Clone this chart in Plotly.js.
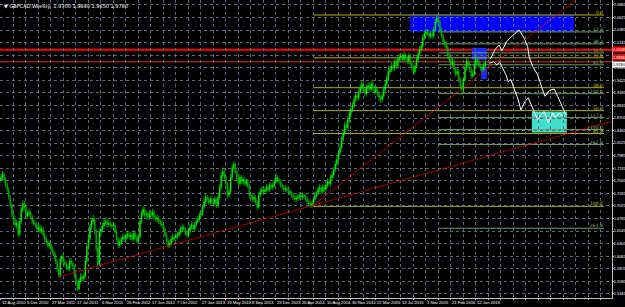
<!DOCTYPE html>
<html><head><meta charset="utf-8">
<script src="https://cdn.plot.ly/plotly-3.0.1.min.js"></script>
<style>html,body{margin:0;padding:0;background:#000;overflow:hidden}#chart{width:625px;height:307px}</style>
</head><body><div id="chart"></div>
<script>
const symbolTitle = "GBPCAD,Weekly";
const lastQuote = ["1.9700", "1.9840", "1.9650", "1.9780"];

const close = [
1.757,1.763,1.753,1.742,1.734,1.719,1.704,1.687,1.677,1.666,
1.669,1.648,1.673,1.696,1.707,1.700,1.683,1.688,1.690,1.681,
1.673,1.669,1.666,1.658,1.662,1.654,1.658,1.647,1.639,1.633,
1.626,1.629,1.620,1.614,1.607,1.597,1.582,1.570,1.601,1.605,
1.595,1.591,1.586,1.582,1.597,1.593,1.587,1.570,1.555,1.544,
1.559,1.567,1.563,1.568,1.597,1.624,1.639,1.662,1.673,1.677,
1.654,1.620,1.591,1.652,1.658,1.664,1.671,1.673,1.667,1.669,
1.666,1.664,1.666,1.654,1.639,1.627,1.633,1.639,1.643,1.639,
1.645,1.648,1.643,1.647,1.639,1.650,1.643,1.635,1.643,1.673,
1.688,1.696,1.685,1.687,1.681,1.688,1.685,1.690,1.681,1.677,
1.679,1.673,1.669,1.666,1.658,1.648,1.635,1.627,1.631,1.639,
1.643,1.641,1.645,1.647,1.652,1.658,1.662,1.658,1.650,1.647,
1.654,1.662,1.666,1.658,1.666,1.673,1.677,1.685,1.688,1.700,
1.711,1.719,1.715,1.709,1.715,1.711,1.707,1.715,1.704,1.719,
1.738,1.761,1.768,1.757,1.744,1.723,1.730,1.757,1.776,1.782,
1.768,1.753,1.745,1.757,1.749,1.753,1.745,1.749,1.740,1.723,
1.719,1.715,1.719,1.709,1.700,1.723,1.730,1.734,1.730,1.734,
1.738,1.734,1.742,1.738,1.742,1.749,1.757,1.753,1.749,1.742,
1.738,1.734,1.736,1.732,1.730,1.727,1.723,1.719,1.715,1.717,
1.719,1.723,1.719,1.723,1.721,1.715,1.711,1.706,1.704,1.707,
1.715,1.723,1.727,1.734,1.738,1.730,1.738,1.734,1.742,1.749,
1.745,1.757,1.761,1.772,1.782,1.791,1.803,1.814,1.829,1.841,
1.856,1.852,1.867,1.879,1.887,1.894,1.906,1.913,1.909,1.921,
1.928,1.936,1.925,1.917,1.928,1.932,1.925,1.936,1.928,1.921,
1.925,1.917,1.909,1.906,1.913,1.925,1.936,1.947,1.959,1.963,
1.970,1.966,1.978,1.970,1.982,1.986,1.989,1.982,1.991,1.986,
1.978,1.989,1.974,1.966,1.959,1.970,1.982,1.993,2.001,2.008,
2.024,2.031,2.035,2.033,2.027,2.031,2.027,2.039,2.054,2.062,
2.054,2.039,2.027,2.016,2.012,2.005,1.989,1.982,1.974,1.978,
1.963,1.955,1.959,1.944,1.932,1.925,1.944,1.966,1.978,1.974,
1.963,1.951,1.955,1.974,1.982,1.978,1.970,1.966,1.963,1.970,1.978];

const open = [
1.752,1.757,1.763,1.753,1.742,1.734,1.719,1.704,1.687,1.677,
1.666,1.669,1.648,1.673,1.696,1.707,1.700,1.683,1.688,1.690,
1.681,1.673,1.669,1.666,1.658,1.662,1.654,1.658,1.647,1.639,
1.633,1.626,1.629,1.620,1.614,1.607,1.597,1.582,1.570,1.601,
1.605,1.595,1.591,1.586,1.582,1.597,1.593,1.587,1.570,1.555,
1.544,1.559,1.567,1.563,1.568,1.597,1.624,1.639,1.662,1.673,
1.677,1.654,1.620,1.591,1.652,1.658,1.664,1.671,1.673,1.667,
1.669,1.666,1.664,1.666,1.654,1.639,1.627,1.633,1.639,1.643,
1.639,1.645,1.648,1.643,1.647,1.639,1.650,1.643,1.635,1.643,
1.673,1.688,1.696,1.685,1.687,1.681,1.688,1.685,1.690,1.681,
1.677,1.679,1.673,1.669,1.666,1.658,1.648,1.635,1.627,1.631,
1.639,1.643,1.641,1.645,1.647,1.652,1.658,1.662,1.658,1.650,
1.647,1.654,1.662,1.666,1.658,1.666,1.673,1.677,1.685,1.688,
1.700,1.711,1.719,1.715,1.709,1.715,1.711,1.707,1.715,1.704,
1.719,1.738,1.761,1.768,1.757,1.744,1.723,1.730,1.757,1.776,
1.782,1.768,1.753,1.745,1.757,1.749,1.753,1.745,1.749,1.740,
1.723,1.719,1.715,1.719,1.709,1.700,1.723,1.730,1.734,1.730,
1.734,1.738,1.734,1.742,1.738,1.742,1.749,1.757,1.753,1.749,
1.742,1.738,1.734,1.736,1.732,1.730,1.727,1.723,1.719,1.715,
1.717,1.719,1.723,1.719,1.723,1.721,1.715,1.711,1.706,1.704,
1.707,1.715,1.723,1.727,1.734,1.738,1.730,1.738,1.734,1.742,
1.749,1.745,1.757,1.761,1.772,1.782,1.791,1.803,1.814,1.829,
1.841,1.856,1.852,1.867,1.879,1.887,1.894,1.906,1.913,1.909,
1.921,1.928,1.936,1.925,1.917,1.928,1.932,1.925,1.936,1.928,
1.921,1.925,1.917,1.909,1.906,1.913,1.925,1.936,1.947,1.959,
1.963,1.970,1.966,1.978,1.970,1.982,1.986,1.989,1.982,1.991,
1.986,1.978,1.989,1.974,1.966,1.959,1.970,1.982,1.993,2.001,
2.008,2.024,2.031,2.035,2.033,2.027,2.031,2.027,2.039,2.054,
2.062,2.054,2.039,2.027,2.016,2.012,2.005,1.989,1.982,1.974,
1.978,1.963,1.955,1.959,1.944,1.932,1.925,1.944,1.966,1.978,
1.974,1.963,1.951,1.955,1.974,1.982,1.978,1.970,1.966,1.963,1.970];

const high = [
1.764,1.770,1.768,1.758,1.747,1.739,1.724,1.708,1.693,1.683,
1.676,1.673,1.678,1.702,1.714,1.712,1.705,1.695,1.697,1.695,
1.686,1.679,1.675,1.671,1.668,1.667,1.664,1.662,1.652,1.645,
1.638,1.636,1.634,1.625,1.619,1.612,1.601,1.588,1.606,1.612,
1.610,1.601,1.596,1.592,1.603,1.603,1.598,1.591,1.575,1.560,
1.565,1.574,1.572,1.575,1.603,1.630,1.646,1.669,1.680,1.686,
1.682,1.659,1.625,1.658,1.665,1.670,1.678,1.681,1.679,1.676,
1.674,1.671,1.672,1.670,1.658,1.643,1.640,1.646,1.650,1.648,
1.651,1.655,1.653,1.653,1.651,1.656,1.655,1.648,1.649,1.679,
1.695,1.703,1.700,1.694,1.692,1.694,1.693,1.697,1.695,1.686,
1.685,1.684,1.678,1.675,1.671,1.663,1.652,1.640,1.638,1.645,
1.650,1.648,1.651,1.653,1.658,1.664,1.669,1.667,1.662,1.656,
1.660,1.668,1.673,1.671,1.672,1.680,1.684,1.691,1.695,1.706,
1.718,1.726,1.724,1.720,1.721,1.720,1.716,1.721,1.719,1.725,
1.745,1.768,1.776,1.773,1.762,1.748,1.737,1.763,1.783,1.788,
1.786,1.772,1.758,1.763,1.762,1.759,1.758,1.755,1.754,1.745,
1.728,1.724,1.725,1.723,1.714,1.729,1.737,1.740,1.739,1.740,
1.744,1.743,1.748,1.747,1.748,1.755,1.764,1.762,1.758,1.754,
1.747,1.743,1.742,1.741,1.737,1.735,1.732,1.728,1.724,1.723,
1.725,1.729,1.728,1.729,1.728,1.726,1.720,1.716,1.711,1.713,
1.721,1.729,1.733,1.740,1.745,1.743,1.744,1.743,1.748,1.755,
1.754,1.763,1.768,1.778,1.789,1.798,1.809,1.821,1.836,1.848,
1.863,1.862,1.874,1.886,1.894,1.901,1.913,1.920,1.919,1.928,
1.935,1.943,1.941,1.930,1.934,1.939,1.937,1.942,1.941,1.933,
1.931,1.930,1.922,1.914,1.919,1.931,1.943,1.954,1.966,1.970,
1.977,1.975,1.984,1.983,1.988,1.993,1.996,1.994,1.998,1.996,
1.991,1.995,1.993,1.979,1.971,1.976,1.988,2.000,2.008,2.015,
2.031,2.038,2.042,2.041,2.038,2.037,2.036,2.045,2.060,2.067,
2.066,2.058,2.044,2.032,2.021,2.017,2.010,1.994,1.987,1.985,
1.983,1.968,1.966,1.964,1.949,1.937,1.950,1.973,1.985,1.984,
1.979,1.968,1.962,1.980,1.989,1.987,1.983,1.975,1.971,1.976,1.984];

const low = [
1.747,1.752,1.748,1.737,1.728,1.714,1.698,1.681,1.671,1.660,
1.659,1.642,1.644,1.668,1.690,1.694,1.678,1.678,1.682,1.676,
1.668,1.664,1.660,1.653,1.652,1.649,1.649,1.642,1.633,1.628,
1.620,1.621,1.615,1.608,1.601,1.591,1.576,1.565,1.566,1.595,
1.589,1.585,1.580,1.577,1.578,1.587,1.581,1.565,1.549,1.540,
1.541,1.553,1.557,1.558,1.564,1.592,1.619,1.634,1.656,1.667,
1.648,1.614,1.585,1.588,1.646,1.653,1.659,1.665,1.661,1.662,
1.660,1.658,1.659,1.649,1.634,1.622,1.622,1.628,1.634,1.633,
1.634,1.640,1.638,1.637,1.634,1.634,1.637,1.630,1.630,1.640,
1.668,1.682,1.679,1.679,1.676,1.676,1.679,1.680,1.676,1.672,
1.671,1.668,1.663,1.660,1.653,1.642,1.629,1.621,1.622,1.626,
1.634,1.636,1.636,1.640,1.642,1.647,1.653,1.652,1.645,1.641,
1.642,1.649,1.657,1.653,1.653,1.661,1.668,1.672,1.680,1.683,
1.695,1.706,1.709,1.704,1.704,1.706,1.701,1.702,1.698,1.699,
1.714,1.733,1.755,1.751,1.738,1.717,1.718,1.726,1.752,1.770,
1.762,1.747,1.739,1.740,1.744,1.743,1.740,1.740,1.735,1.718,
1.713,1.709,1.710,1.704,1.694,1.697,1.718,1.725,1.724,1.725,
1.729,1.729,1.729,1.733,1.733,1.737,1.744,1.748,1.744,1.737,
1.733,1.729,1.729,1.727,1.725,1.722,1.718,1.714,1.710,1.710,
1.712,1.714,1.714,1.714,1.716,1.710,1.706,1.701,1.699,1.699,
1.702,1.710,1.718,1.722,1.729,1.725,1.725,1.729,1.729,1.737,
1.740,1.740,1.752,1.756,1.767,1.777,1.786,1.798,1.809,1.824,
1.836,1.846,1.847,1.862,1.873,1.882,1.889,1.901,1.903,1.904,
1.916,1.923,1.919,1.911,1.912,1.923,1.919,1.920,1.922,1.915,
1.916,1.911,1.903,1.899,1.900,1.908,1.920,1.931,1.942,1.953,
1.958,1.960,1.961,1.964,1.965,1.977,1.981,1.977,1.977,1.980,
1.973,1.973,1.969,1.960,1.953,1.954,1.965,1.977,1.988,1.996,
2.003,2.019,2.026,2.027,2.021,2.022,2.021,2.022,2.034,2.049,
2.048,2.033,2.021,2.010,2.006,1.999,1.983,1.976,1.968,1.969,
1.957,1.949,1.950,1.938,1.926,1.915,1.920,1.939,1.961,1.968,
1.957,1.945,1.946,1.950,1.969,1.972,1.965,1.960,1.957,1.958,1.965];

const dateTickLabels = ["12 Aug 2010","5 Dec 2010","27 Mar 2011","17 Jul 2011","6 Nov 2011","26 Feb 2012","17 Jun 2012","7 Oct 2012","27 Jan 2013","19 May 2013","8 Sep 2013","29 Dec 2013","20 Apr 2014","10 Aug 2014","30 Nov 2014","22 Mar 2015","12 Jul 2015","1 Nov 2015","21 Feb 2016","12 Jun 2016"];

const yellowFibWeeks = [200, 386];
const yellowFibPrices = [2.0674, 1.9855, 1.9284, 1.8846, 1.8408, 1.7017];
const yellowFibLabels = ["0.0", "23.6", "38.2", "50.0", "61.8", "100.0"];
const greenFibWeeks = [280, 386];
const greenFibPrices = [2.0350, 2.0122, 1.9950, 1.9722, 1.9170, 1.8713, 1.8484, 1.8198, 1.6598];
const greenFibLabels = ["23.6", "38.2", "50.0", "61.8", "100.0", "127.2", "150.0", "161.8", "261.8"];

const redLinePrices = [2.0008, 1.9779];
const trendLineWeeks = [[36.5, 391.5], [199.7, 372]];
const trendLinePrices = [[1.5665, 1.8647], [1.7036, 2.1054]];

const zoneWeeks = [[261.8, 366.7], [301.4, 311.0], [307.2, 311.0], [339.8, 362.2]];
const zonePrices = [[2.0674, 2.0350], [2.0046, 1.9817], [1.9680, 1.9450], [1.8827, 1.8427]];
const zoneColors = ["#0000ff", "#1a2cff", "#1a2cff", "#40e0d0"];

const projUpperWeeks = [313.2,316.4,318.9,320.6,323.8,326.4,331.7,334.9,337.1,338.1,340.3,343.5,345.6,348.2,350.9,354.1,356.3,358.8,361.6];
const projUpperPrices = [1.983,2.002,2.010,1.999,2.017,2.025,2.039,2.023,2.007,1.987,1.969,1.953,1.934,1.912,1.923,1.926,1.912,1.896,1.877];
const projLowerWeeks = [312.5,315.3,317.4,319.2,321.1,323.2,324.7,326.4,328.5,330.7,332.8,335.4,337.5,339.6,341.3,343.5,345.6,347.7,350.3,353.1,354.6,357.3,359.5];
const projLowerPrices = [1.975,1.978,1.972,1.977,1.966,1.953,1.940,1.944,1.926,1.909,1.886,1.902,1.909,1.893,1.883,1.867,1.877,1.883,1.861,1.880,1.871,1.880,1.874];

const priceLabels = [
  {price: 2.0008, text: "2.0008", bg: "#ff0000", fg: "#ffffff"},
  {price: 1.9855, text: "1.9836", bg: "#e01010", fg: "#ffffff"},
  {price: 1.9722, text: "1.9780", bg: "#ffffff", fg: "#000000"}
];

const weekIndex = close.map((_, i) => i);
const gridWeeks = [];
const gridText = [];
for (let w = 0; w <= 384; w += 8) {
  gridWeeks.push(w);
  gridText.push(w % 16 === 0 && dateTickLabels[w / 16] ? dateTickLabels[w / 16] : "");
}

const traces = [{
  type: "candlestick", x: weekIndex, open: open, high: high, low: low, close: close,
  increasing: {line: {color: "#00ff00", width: 0.6}, fillcolor: "#00ff00"},
  decreasing: {line: {color: "#00d800", width: 0.6}, fillcolor: "#005a00"},
  whiskerwidth: 0, hoverinfo: "skip"
}, {
  type: "scatter", mode: "lines", x: projUpperWeeks, y: projUpperPrices,
  line: {color: "#ffffff", width: 1}, hoverinfo: "skip"
}, {
  type: "scatter", mode: "lines", x: projLowerWeeks, y: projLowerPrices,
  line: {color: "#ffffff", width: 1}, hoverinfo: "skip"
}];

const shapes = [];
const annotations = [];
zoneWeeks.forEach((w, k) => {
  shapes.push({type: "rect", xref: "x", yref: "y", x0: w[0], x1: w[1], y0: zonePrices[k][0], y1: zonePrices[k][1],
    fillcolor: zoneColors[k], line: {width: 0}, layer: "below"});
});
yellowFibPrices.forEach((p, k) => {
  shapes.push({type: "line", xref: "x", yref: "y", x0: yellowFibWeeks[0], x1: yellowFibWeeks[1], y0: p, y1: p,
    line: {color: "#b4b400", width: 1}, layer: "below"});
  annotations.push({xref: "x", yref: "y", x: yellowFibWeeks[1], y: p, text: yellowFibLabels[k], showarrow: false,
    xanchor: "right", yanchor: "bottom", font: {size: 4.5, color: "#c8c800", family: "DejaVu Sans"}, borderpad: 0, yshift: -1});
});
greenFibPrices.forEach((p, k) => {
  shapes.push({type: "line", xref: "x", yref: "y", x0: greenFibWeeks[0], x1: greenFibWeeks[1], y0: p, y1: p,
    line: {color: "#6f9a62", width: 1}, layer: "below"});
  annotations.push({xref: "x", yref: "y", x: greenFibWeeks[1], y: p, text: greenFibLabels[k], showarrow: false,
    xanchor: "right", yanchor: "bottom", font: {size: 4.5, color: "#7fb070", family: "DejaVu Sans"}, borderpad: 0, yshift: -1});
});
redLinePrices.forEach((p, k) => {
  shapes.push({type: "line", xref: "paper", yref: "y", x0: 0, x1: 1, y0: p, y1: p,
    line: {color: k === 0 ? "#ff0000" : "#d83a10", width: k === 0 ? 2 : 1}, layer: "below"});
});
trendLineWeeks.forEach((w, k) => {
  shapes.push({type: "line", xref: "x", yref: "y", x0: w[0], x1: w[1], y0: trendLinePrices[k][0], y1: trendLinePrices[k][1],
    line: {color: "#e00000", width: 1, dash: "2px,1px"}, layer: "above"});
});
priceLabels.forEach(l => {
  annotations.push({xref: "paper", yref: "y", x: 1, y: l.price, text: l.text, showarrow: false, xanchor: "left",
    xshift: 0, bgcolor: l.bg, font: {size: 3.9, color: l.fg, family: "Liberation Sans"}, borderpad: 0});
});
annotations.push({xref: "paper", yref: "paper", x: 0, y: 1, xanchor: "left", yanchor: "top", xshift: 2, yshift: -1,
  showarrow: false, text: "▼ " + symbolTitle + "  " + lastQuote.join(" "),
  font: {size: 5, color: "#ffffff", family: "DejaVu Sans"}});

const layout = {
  width: 625, height: 307,
  margin: {l: 0, r: 13, t: 0, b: 9},
  paper_bgcolor: "#000000", plot_bgcolor: "#000000",
  showlegend: false, hovermode: false,
  xaxis: {range: [-0.6, 391.1], tickmode: "array", tickvals: gridWeeks, ticktext: gridText,
    tickangle: 0, automargin: false,
    ticklabelposition: "outside right", ticks: "outside", ticklen: 1, tickcolor: "#c0c0c0",
    showgrid: true, gridcolor: "#5a6a7e", griddash: "dot", gridwidth: 1,
    showline: true, linecolor: "#c0c0c0", linewidth: 1, zeroline: false,
    tickfont: {size: 4.2, color: "#ffffff", family: "Liberation Sans"},
    rangeslider: {visible: false}, fixedrange: true},
  yaxis: {side: "right", range: [1.5265, 2.096], tick0: 2.0865, dtick: 0.024, tickformat: ".4f",
    ticks: "outside", ticklen: 1, tickcolor: "#c0c0c0", ticklabelstandoff: -1, automargin: false,
    showgrid: true, gridcolor: "#5a6a7e", griddash: "dot", gridwidth: 1,
    showline: true, linecolor: "#c0c0c0", linewidth: 1, zeroline: false,
    tickfont: {size: 3.9, color: "#ffffff", family: "Liberation Sans"}, fixedrange: true},
  shapes: shapes, annotations: annotations
};
Plotly.newPlot("chart", traces, layout, {staticPlot: true, displayModeBar: false});
</script></body></html>
